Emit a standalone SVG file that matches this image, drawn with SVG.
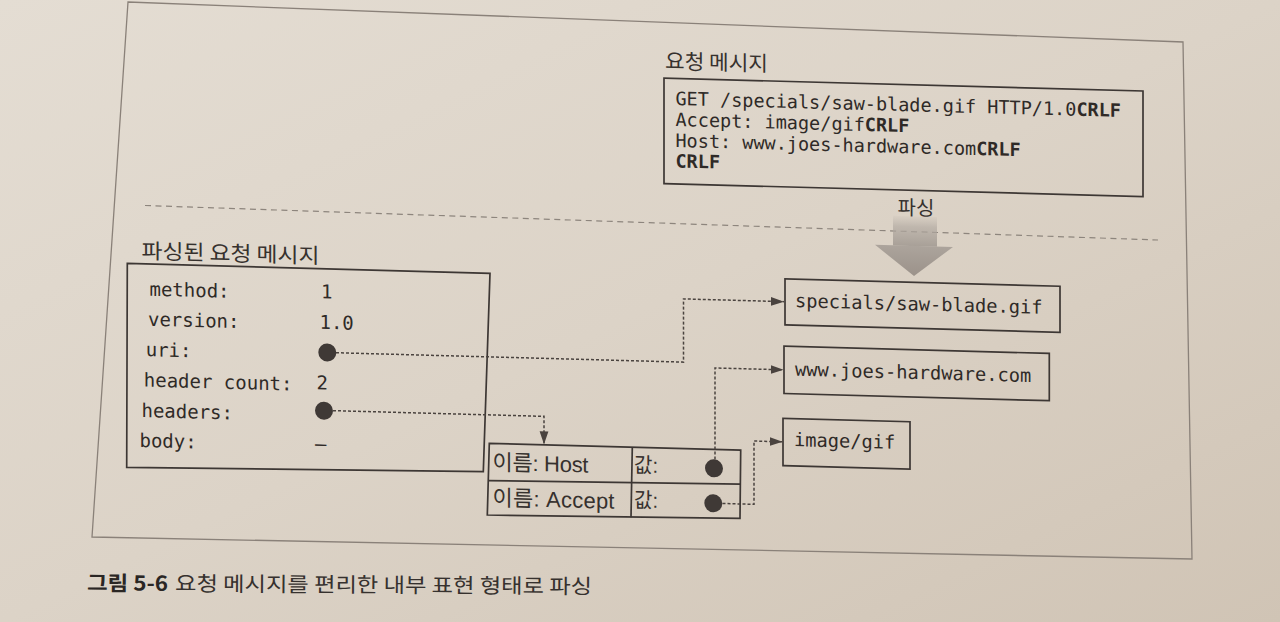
<svg xmlns="http://www.w3.org/2000/svg" width="1280" height="622" viewBox="0 0 1280 622">
<defs>
<linearGradient id="bg" x1="0" y1="0" x2="1" y2="1">
<stop offset="0" stop-color="#e4ddd3"/>
<stop offset="0.5" stop-color="#dcd3c7"/>
<stop offset="1" stop-color="#d0c4b5"/>
</linearGradient>
<linearGradient id="shaft" x1="0" y1="0" x2="0" y2="1">
<stop offset="0" stop-color="#b5ada5" stop-opacity="0.1"/>
<stop offset="0.35" stop-color="#b0a8a0" stop-opacity="0.65"/>
<stop offset="1" stop-color="#a59d95" stop-opacity="0.95"/>
</linearGradient>
<linearGradient id="head" x1="0" y1="0" x2="0" y2="1">
<stop offset="0" stop-color="#aca49c"/>
<stop offset="1" stop-color="#9b928a"/>
</linearGradient>
<marker id="ah" markerWidth="13" markerHeight="10" refX="13" refY="5" orient="auto" markerUnits="userSpaceOnUse">
<path d="M0,0.6 L13,5 L0,9.4 z" fill="#4a433f"/>
</marker>
</defs>
<style>
.mono{font-family:"DejaVu Sans Mono","Liberation Mono",monospace;fill:#2f2a27}
.kr{font-family:"Noto Sans CJK KR","Noto Sans",sans-serif;fill:#36312e}
.kr2{font-family:"Liberation Sans","Noto Sans CJK KR",sans-serif;fill:#36312e}
.box{fill:none;stroke:#3d3734;stroke-width:1.7}
.dot{fill:#3f3936}
.link{fill:none;stroke:#4a433f;stroke-width:1.5;stroke-dasharray:3 2}
</style>
<rect x="0" y="0" width="1280" height="622" fill="url(#bg)"/>
<g id="frame">
<polygon points="128,2 1183,42 1192,559 92,537" fill="none" stroke="#8a8179" stroke-width="1.3"/>
<line x1="145" y1="205.5" x2="1158" y2="240" stroke="#8d857d" stroke-width="1.2" stroke-dasharray="6 4.5"/>
</g>
<g transform="matrix(1 0.027 0 1 0 -17.334)">
<g id="request-message">
<text class="kr" x="665" y="68" font-size="21" textLength="103" lengthAdjust="spacingAndGlyphs">요청 메시지</text>
<rect class="box" x="664" y="77.5" width="479" height="105.5"/>
<text class="mono" x="675.5" y="104" font-size="18.5">GET /specials/saw-blade.gif HTTP/1.0<tspan font-weight="700">CRLF</tspan></text>
<text class="mono" x="675.5" y="125" font-size="18.5">Accept: image/gif<tspan font-weight="700">CRLF</tspan></text>
<text class="mono" x="675.5" y="146" font-size="18.5">Host: www.joes-hardware.com<tspan font-weight="700">CRLF</tspan></text>
<text class="mono" x="675.5" y="166.5" font-size="18.5" font-weight="700">CRLF</text>
</g>
<g id="parse-arrow">
<text class="kr" x="916" y="207.5" font-size="20" text-anchor="middle">파싱</text>
<rect x="893" y="209" width="44" height="29.8" fill="url(#shaft)"/>
<polygon points="875,238.5 953,238.5 914,268.7" fill="url(#head)"/>
</g>
<g id="parsed-message">
<text class="kr" x="141.5" y="272" font-size="21" textLength="178" lengthAdjust="spacingAndGlyphs">파싱된 요청 메시지</text>
<polygon class="box" points="127.3,277.2 490,277.4 483.3,476 126.7,481.2"/>
<text class="mono" x="149.5" y="309" font-size="19">method:</text>
<text class="mono" x="148" y="339" font-size="19">version:</text>
<text class="mono" x="145.7" y="369.5" font-size="19">uri:</text>
<text class="mono" x="143.8" y="400" font-size="19">header count:</text>
<text class="mono" x="141.5" y="430.5" font-size="19">headers:</text>
<text class="mono" x="139.5" y="460.5" font-size="19">body:</text>
<text class="mono" x="321" y="307" font-size="19">1</text>
<text class="mono" x="319.5" y="337.5" font-size="19">1.0</text>
<text class="mono" x="316.4" y="398" font-size="19">2</text>
<text class="mono" x="315" y="459" font-size="19">–</text>
<circle class="dot" cx="327.3" cy="361" r="9"/>
<circle class="dot" cx="324" cy="419.4" r="9"/>
</g>
<g id="header-table">
<polygon class="box" points="489.3,447.4 740.7,447.4 740,515.7 487.3,519.2"/>
<line class="box" x1="488.3" y1="484.8" x2="740.4" y2="481.4"/>
<line class="box" x1="632.3" y1="447.4" x2="631" y2="517.5"/>
<text class="kr2" x="492.5" y="474" font-size="22" textLength="96">이름: Host</text>
<text class="kr2" x="492.5" y="509.5" font-size="22" textLength="122">이름: Accept</text>
<text class="kr2" x="634" y="472.5" font-size="21" textLength="24" lengthAdjust="spacingAndGlyphs">값:</text>
<text class="kr2" x="634" y="507.5" font-size="21" textLength="24" lengthAdjust="spacingAndGlyphs">값:</text>
<circle class="dot" cx="714" cy="466.4" r="9"/>
<circle class="dot" cx="713.3" cy="501.4" r="9"/>
</g>
<g id="uri-value">
<rect class="box" x="785" y="275" width="275" height="46"/>
<text class="mono" x="795" y="303" font-size="18.7">specials/saw-blade.gif</text>
</g>
<g id="host-value">
<rect class="box" x="784" y="342.4" width="265.3" height="47.3"/>
<text class="mono" x="795" y="371.5" font-size="18.7">www.joes-hardware.com</text>
</g>
<g id="accept-value">
<rect class="box" x="783" y="414.5" width="127" height="47.3"/>
<text class="mono" x="794" y="442" font-size="18.7">image/gif</text>
</g>
<g id="connectors">
<path class="link" d="M336,361 H683.5 V297.8 H784" marker-end="url(#ah)"/>
<path class="link" d="M333,419 H544 V447" marker-end="url(#ah)"/>
<path class="link" d="M715,457.5 V366 H783.5" marker-end="url(#ah)"/>
<path class="link" d="M722.5,501.3 H754 V438 H782.5" marker-end="url(#ah)"/>
</g>
</g>
<g id="caption" transform="rotate(0.4 340 590)">
<text class="kr" x="87" y="592" font-size="20.5" font-weight="700" textLength="81" lengthAdjust="spacingAndGlyphs" style="fill:#2a2624">그림 5-6</text>
<text class="kr" x="175" y="592" font-size="20.5" textLength="417" lengthAdjust="spacingAndGlyphs">요청 메시지를 편리한 내부 표현 형태로 파싱</text>
</g>
</svg>
